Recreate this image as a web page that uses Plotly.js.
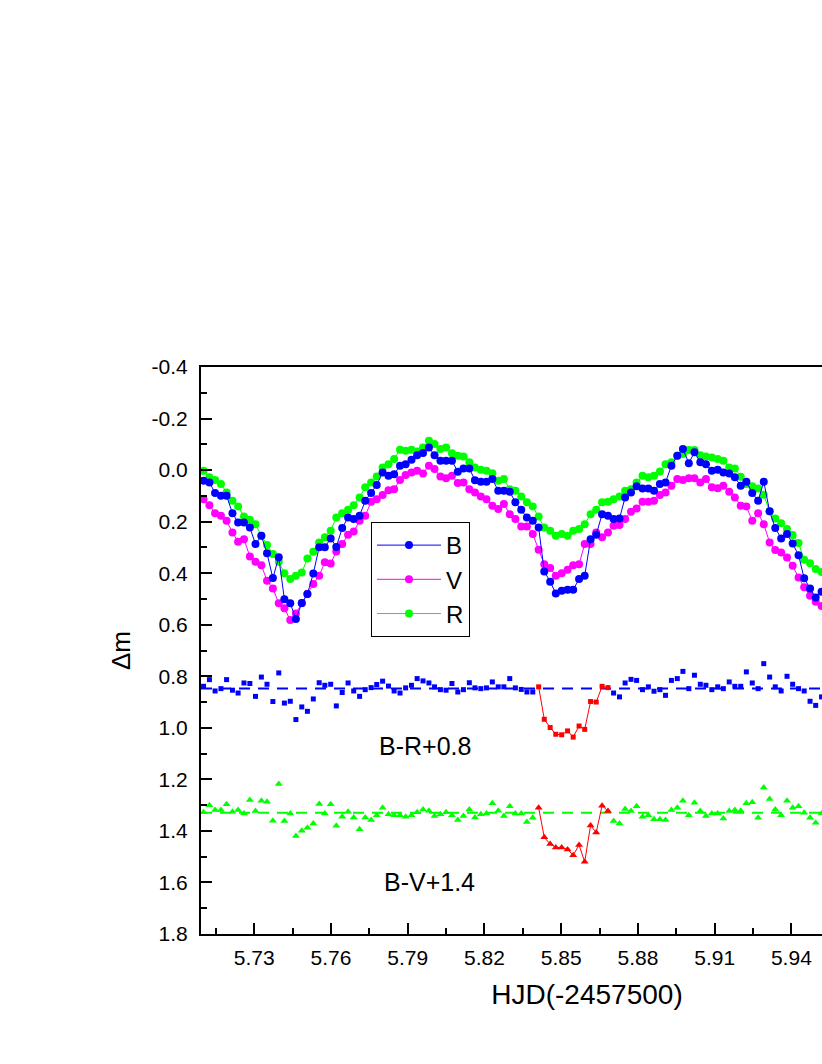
<!DOCTYPE html>
<html>
<head>
<meta charset="utf-8">
<script src="https://cdn.plot.ly/plotly-3.0.1.min.js"></script>
<style>
  html, body { margin: 0; padding: 0; overflow: hidden; background: #fff; }
  #chart { width: 1000px; height: 1064px; }
</style>
</head>
<body>
<div id="chart"></div>
<script>
// HJD(-2457500) of each observation
const hjd = [
  5.7102, 5.7125, 5.7147, 5.7170, 5.7192, 5.7215, 5.7237, 5.7260, 5.7283, 5.7305,
  5.7328, 5.7350, 5.7373, 5.7396, 5.7418, 5.7441, 5.7463, 5.7486, 5.7508, 5.7531,
  5.7554, 5.7576, 5.7599, 5.7621, 5.7644, 5.7667, 5.7689, 5.7712, 5.7734, 5.7757,
  5.7779, 5.7802, 5.7825, 5.7847, 5.7870, 5.7892, 5.7915, 5.7937, 5.7960, 5.7983,
  5.8005, 5.8028, 5.8050, 5.8073, 5.8096, 5.8118, 5.8141, 5.8163, 5.8186, 5.8208,
  5.8231, 5.8254, 5.8276, 5.8299, 5.8321, 5.8344, 5.8366, 5.8389, 5.8412, 5.8434,
  5.8457, 5.8479, 5.8502, 5.8525, 5.8547, 5.8570, 5.8592, 5.8615, 5.8637, 5.8660,
  5.8683, 5.8705, 5.8728, 5.8750, 5.8773, 5.8795, 5.8818, 5.8841, 5.8863, 5.8886,
  5.8908, 5.8931, 5.8954, 5.8976, 5.8999, 5.9021, 5.9044, 5.9066, 5.9089, 5.9112,
  5.9134, 5.9157, 5.9179, 5.9202, 5.9224, 5.9247, 5.9270, 5.9292, 5.9315, 5.9337,
  5.9360, 5.9383, 5.9405, 5.9428, 5.9450, 5.9473, 5.9495, 5.9518
];

const magB = [
  0.041, 0.048, 0.089, 0.100, 0.100, 0.167, 0.203, 0.203, 0.223, 0.287,
  0.255, 0.323, 0.419, 0.338, 0.501, 0.517, 0.578, 0.516, 0.481, 0.401,
  0.299, 0.299, 0.265, 0.298, 0.225, 0.184, 0.190, 0.177, 0.119, 0.089,
  0.058, 0.009, 0.022, 0.016, -0.017, -0.023, -0.040, -0.058, -0.066, -0.088,
  -0.058, -0.036, -0.036, -0.036, 0.006, -0.006, -0.006, 0.039, 0.045, 0.045,
  0.035, 0.080, 0.080, 0.084, 0.125, 0.154, 0.184, 0.197, 0.223, 0.393,
  0.433, 0.479, 0.468, 0.464, 0.464, 0.423, 0.410, 0.268, 0.251, 0.171,
  0.177, 0.190, 0.188, 0.106, 0.087, 0.063, 0.071, 0.071, 0.080, 0.054,
  0.048, -0.017, -0.056, -0.082, -0.027, -0.069, -0.030, -0.023, 0.003, -0.001,
  0.009, 0.013, 0.028, 0.061, 0.045, 0.089, 0.119, 0.045, 0.160, 0.225,
  0.265, 0.248, 0.285, 0.330, 0.420, 0.459, 0.494, 0.472
];

const magV = [
  0.113, 0.136, 0.167, 0.177, 0.197, 0.242, 0.278, 0.268, 0.335, 0.356,
  0.369, 0.429, 0.459, 0.517, 0.536, 0.582, 0.556, 0.517, 0.481, 0.442,
  0.410, 0.358, 0.362, 0.316, 0.287, 0.251, 0.238, 0.197, 0.177, 0.123,
  0.113, 0.097, 0.078, 0.074, 0.038, 0.019, 0.009, 0.003, 0.013, -0.017,
  -0.004, 0.025, 0.032, 0.022, 0.050, 0.048, 0.074, 0.087, 0.102, 0.113,
  0.138, 0.151, 0.132, 0.171, 0.190, 0.219, 0.219, 0.248, 0.309, 0.365,
  0.380, 0.410, 0.400, 0.387, 0.369, 0.365, 0.287, 0.287, 0.242, 0.261,
  0.242, 0.216, 0.213, 0.190, 0.162, 0.149, 0.123, 0.123, 0.119, 0.097,
  0.087, 0.061, 0.035, 0.038, 0.032, 0.032, 0.048, 0.035, 0.067, 0.070,
  0.061, 0.084, 0.106, 0.138, 0.141, 0.197, 0.167, 0.210, 0.281, 0.310,
  0.320, 0.339, 0.371, 0.417, 0.455, 0.488, 0.511, 0.527
];

const magR = [
  0.003, 0.028, 0.038, 0.054, 0.087, 0.119, 0.141, 0.180, 0.193, 0.210,
  0.255, 0.291, 0.326, 0.356, 0.400, 0.423, 0.410, 0.397, 0.343, 0.317,
  0.281, 0.261, 0.235, 0.184, 0.167, 0.154, 0.136, 0.106, 0.067, 0.048,
  0.025, -0.010, -0.023, -0.043, -0.079, -0.075, -0.079, -0.072, -0.088, -0.114,
  -0.101, -0.082, -0.088, -0.065, -0.056, -0.053, -0.030, -0.010, -0.001, 0.003,
  0.012, 0.041, 0.035, 0.074, 0.080, 0.102, 0.125, 0.141, 0.180, 0.223,
  0.235, 0.255, 0.248, 0.255, 0.235, 0.229, 0.210, 0.171, 0.154, 0.125,
  0.123, 0.113, 0.102, 0.080, 0.074, 0.048, 0.022, 0.028, 0.022, 0.005,
  -0.023, -0.030, -0.056, -0.062, -0.078, -0.078, -0.058, -0.053, -0.049, -0.043,
  -0.036, -0.010, -0.006, 0.026, 0.054, 0.063, 0.071, 0.096, 0.160, 0.188,
  0.206, 0.229, 0.252, 0.283, 0.348, 0.361, 0.384, 0.395
];

// colour indices, shifted as labelled in the plot
const colorBR = [
  0.839, 0.813, 0.857, 0.848, 0.813, 0.854, 0.865, 0.826, 0.828, 0.878,
  0.803, 0.831, 0.898, 0.787, 0.904, 0.897, 0.968, 0.919, 0.936, 0.888,
  0.825, 0.835, 0.831, 0.915, 0.863, 0.826, 0.857, 0.878, 0.852, 0.844,
  0.832, 0.819, 0.838, 0.857, 0.865, 0.845, 0.835, 0.809, 0.818, 0.826,
  0.841, 0.852, 0.854, 0.828, 0.861, 0.852, 0.825, 0.845, 0.848, 0.845,
  0.822, 0.841, 0.841, 0.809, 0.845, 0.851, 0.861, 0.861, 0.841, 0.967,
  0.999, 1.025, 1.027, 1.012, 1.036, 0.993, 1.006, 0.898, 0.900, 0.839,
  0.844, 0.865, 0.880, 0.826, 0.812, 0.816, 0.852, 0.841, 0.858, 0.852,
  0.874, 0.816, 0.809, 0.781, 0.848, 0.796, 0.831, 0.835, 0.852, 0.841,
  0.848, 0.822, 0.839, 0.839, 0.783, 0.826, 0.848, 0.751, 0.803, 0.841,
  0.857, 0.800, 0.831, 0.848, 0.857, 0.897, 0.913, 0.880
];

const colorBV = [
  1.328, 1.300, 1.319, 1.319, 1.297, 1.326, 1.319, 1.332, 1.280, 1.323,
  1.283, 1.287, 1.361, 1.218, 1.362, 1.332, 1.420, 1.399, 1.388, 1.371,
  1.296, 1.332, 1.297, 1.380, 1.345, 1.326, 1.348, 1.394, 1.348, 1.358,
  1.339, 1.310, 1.335, 1.339, 1.339, 1.345, 1.339, 1.328, 1.317, 1.322,
  1.342, 1.335, 1.328, 1.339, 1.358, 1.342, 1.317, 1.348, 1.335, 1.332,
  1.293, 1.322, 1.342, 1.304, 1.332, 1.332, 1.365, 1.349, 1.310, 1.425,
  1.451, 1.464, 1.464, 1.472, 1.494, 1.455, 1.520, 1.379, 1.406, 1.302,
  1.323, 1.362, 1.371, 1.315, 1.323, 1.304, 1.345, 1.339, 1.355, 1.355,
  1.358, 1.319, 1.310, 1.283, 1.339, 1.291, 1.323, 1.342, 1.332, 1.332,
  1.352, 1.323, 1.319, 1.322, 1.293, 1.289, 1.349, 1.232, 1.276, 1.317,
  1.339, 1.283, 1.310, 1.304, 1.330, 1.349, 1.368, 1.332
];

// mean levels of the two colour curves (dashed lines)
const meanBR = 0.847;
const meanBV = 1.330;

// first and last index of the points drawn in red (secondary eclipse)
const redFrom = 58;
const redTo = 70;

const xTickVals = [5.73, 5.76, 5.79, 5.82, 5.85, 5.88, 5.91, 5.94];
const xTickText = ['5.73', '5.76', '5.79', '5.82', '5.85', '5.88', '5.91', '5.94'];
const yTickVals = [-0.4, -0.2, 0.0, 0.2, 0.4, 0.6, 0.8, 1.0, 1.2, 1.4, 1.6, 1.8];
const yTickText = ['-0.4', '-0.2', '0.0', '0.2', '0.4', '0.6', '0.8', '1.0', '1.2', '1.4', '1.6', '1.8'];

const FONT = 'Liberation Sans, Arial, sans-serif';

const inRed = i => i >= redFrom && i <= redTo;
const outside = arr => arr.map((v, i) => inRed(i) ? null : v);
const slice = arr => arr.slice(redFrom, redTo + 1);

function lightCurve(name, y, color, rank) {
    return {
        x: hjd, y: y, name: name,
        type: 'scatter', mode: 'lines+markers',
        line:   { color: color, width: 1 },
        marker: { color: color, size: 8 },
        legendrank: rank
    };
}

const traces = [
    lightCurve('R', magR, '#00ff00', 3),
    lightCurve('V', magV, '#ff00ff', 2),
    lightCurve('B', magB, '#0000ff', 1),
    {
        x: hjd, y: outside(colorBR), type: 'scatter', mode: 'markers',
        marker: { color: '#0000ff', size: 5, symbol: 'square' },
        showlegend: false
    },
    {
        x: slice(hjd), y: slice(colorBR), type: 'scatter', mode: 'lines+markers',
        line: { color: '#ff0000', width: 1 },
        marker: { color: '#ff0000', size: 5, symbol: 'square' },
        showlegend: false
    },
    {
        x: hjd, y: outside(colorBV), type: 'scatter', mode: 'markers',
        marker: { color: '#00ff00', size: 7, symbol: 'triangle-up' },
        showlegend: false
    },
    {
        x: slice(hjd), y: slice(colorBV), type: 'scatter', mode: 'lines+markers',
        line: { color: '#ff0000', width: 1 },
        marker: { color: '#ff0000', size: 7, symbol: 'triangle-up' },
        showlegend: false
    }
];

const axisCommon = {
    showline: true, linewidth: 2, linecolor: '#000', mirror: true,
    showgrid: false, zeroline: false,
    ticks: 'inside', ticklen: 11, tickwidth: 2, tickcolor: '#000',
    tickfont: { family: FONT, size: 21, color: '#000' }
};

const layout = {
    width: 1000, height: 1064,
    margin: { l: 201, r: 27, t: 367, b: 130 },
    paper_bgcolor: '#fff', plot_bgcolor: '#fff',
    font: { family: FONT, color: '#000' },
    xaxis: Object.assign({}, axisCommon, {
        range: [5.7092, 6.011],
        tickmode: 'array', tickvals: xTickVals, ticktext: xTickText,
        ticklabelstandoff: 4,
        minor: { tickmode: 'linear', tick0: 5.73, dtick: 0.015, ticks: 'inside', ticklen: 6, tickwidth: 2, tickcolor: '#000' },
        title: { text: 'HJD(-2457500)', font: { family: FONT, size: 28 }, standoff: 16 }
    }),
    yaxis: Object.assign({}, axisCommon, {
        range: [1.8, -0.4],
        tickmode: 'array', tickvals: yTickVals, ticktext: yTickText,
        ticklabelstandoff: 7,
        minor: { tickmode: 'linear', tick0: 0, dtick: 0.1, ticks: 'inside', ticklen: 6, tickwidth: 2, tickcolor: '#000' },
        title: { text: 'Δm', font: { family: FONT, size: 26 }, standoff: 14 }
    }),
    legend: {
        x: 0.2202, y: 0.7266, xanchor: 'left', yanchor: 'top',
        bgcolor: '#fff', bordercolor: '#000', borderwidth: 1,
        font: { family: FONT, size: 24, color: '#000' },
        itemwidth: 64, tracegroupgap: 0
    },
    shapes: [
        { type: 'line', xref: 'paper', x0: 0, x1: 1, yref: 'y', y0: meanBR, y1: meanBR,
          line: { color: '#0000ff', width: 2, dash: '11px,8px' }, layer: 'below' },
        { type: 'line', xref: 'paper', x0: 0, x1: 1, yref: 'y', y0: meanBV, y1: meanBV,
          line: { color: '#00ff00', width: 2, dash: '11px,8px' }, layer: 'below' }
    ],
    annotations: [
        { text: 'B-R+0.8', x: 5.7969, y: 1.069, xref: 'x', yref: 'y', showarrow: false,
          font: { family: FONT, size: 25, color: '#000' } },
        { text: 'B-V+1.4', x: 5.7985, y: 1.600, xref: 'x', yref: 'y', showarrow: false,
          font: { family: FONT, size: 25, color: '#000' } }
    ]
};

Plotly.newPlot('chart', traces, layout, { displayModeBar: false, staticPlot: true });
</script>
</body>
</html>
